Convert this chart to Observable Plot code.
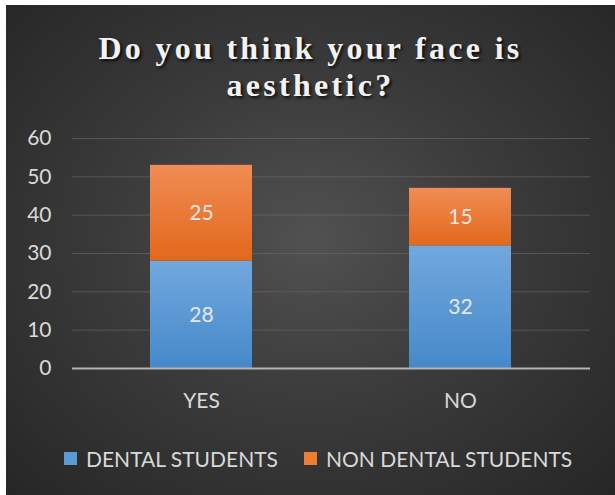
<!DOCTYPE html>
<html><head><meta charset="utf-8">
<script src="https://cdn.jsdelivr.net/npm/d3@7"></script>
<script src="https://cdn.jsdelivr.net/npm/@observablehq/plot@0.6"></script>
<style>
html,body{margin:0;padding:0;}
body{background:#fff;width:615px;height:495px;overflow:hidden;position:relative;font-family:Lato,"Noto Sans",sans-serif;}
#bg{position:absolute;left:6px;top:5px;right:0;bottom:0;background:radial-gradient(ellipse farthest-corner at 50% 48%,#515151 0%,#3b3b3b 45%,#262626 100%);}
#title{position:absolute;left:6px;right:0;top:30px;text-align:center;font-family:"Liberation Serif","DejaVu Serif",serif;font-weight:bold;font-size:32px;line-height:37px;letter-spacing:3.3px;color:#f2f2f2;text-shadow:2px 2px 3px rgba(0,0,0,0.8);}
#chart{position:absolute;left:0;top:120px;}
.leg{position:absolute;top:446px;height:24px;display:flex;align-items:center;font-size:21px;color:#d9d9d9;white-space:nowrap;}
.leg span.sw{display:inline-block;width:13px;height:13px;margin-right:9px;}
</style></head><body>
<div id="bg"></div>
<div id="title">Do you think your face is<br>aesthetic?</div>
<div id="chart"></div>
<div id="legend"></div>
<script>
const categories = ["YES", "NO"];
const seriesNames = ["DENTAL STUDENTS", "NON DENTAL STUDENTS"];
const dentalValues = [28, 32];
const nonDentalValues = [25, 15];
const yTicks = [0, 10, 20, 30, 40, 50, 60];
const seriesColors = ["#5b9bd5", "#ed7d31"];

const data = [];
categories.forEach((c, i) => {
  data.push({category: c, series: seriesNames[0], value: dentalValues[i]});
  data.push({category: c, series: seriesNames[1], value: nonDentalValues[i]});
});

const gradDefs = () => {
  const svgNS = "http://www.w3.org/2000/svg";
  const defs = document.createElementNS(svgNS, "defs");
  defs.innerHTML = `
    <linearGradient id="gBlue" x1="0" y1="0" x2="0" y2="1">
      <stop offset="0" stop-color="#72a8dd"/><stop offset="1" stop-color="#4589cb"/>
    </linearGradient>
    <linearGradient id="gOrange" x1="0" y1="0" x2="0" y2="1">
      <stop offset="0" stop-color="#f08c55"/><stop offset="1" stop-color="#e3681b"/>
    </linearGradient>`;
  return defs;
};

const chart = Plot.plot({
  width: 615,
  height: 300,
  marginLeft: 72,
  marginRight: 25,
  marginTop: 18,
  marginBottom: 52,
  style: {background: "transparent", color: "#d9d9d9", fontFamily: "Lato, 'Noto Sans', sans-serif", fontSize: "21px"},
  x: {domain: categories, paddingInner: 0.606, paddingOuter: 0.303, label: null},
  y: {domain: [0, 60], ticks: yTicks, label: null},
  color: {domain: seriesNames, range: ["url(#gBlue)", "url(#gOrange)"]},
  marks: [
    gradDefs,
    Plot.gridY(yTicks.filter(d => d > 0), {stroke: "#6a6a6a", strokeOpacity: 0.6, strokeWidth: 1}),
    Plot.barY(data, Plot.stackY({x: "category", y: "value", fill: "series", order: seriesNames})),
    Plot.ruleY([0], {stroke: "#b4b4b4", strokeWidth: 2}),
    Plot.text(data, Plot.stackY({x: "category", y: "value", z: "series", order: seriesNames, text: d => String(d.value), fill: "#e6e6e6", fontSize: 21})),
    Plot.axisY({ticks: yTicks, tickSize: 0, tickPadding: 21, fontSize: 21, fill: "#d9d9d9"}),
    Plot.axisX({tickSize: 0, tickPadding: 25, fontSize: 21, fill: "#d9d9d9"})
  ]
});
document.getElementById("chart").appendChild(chart);

const legend = document.getElementById("legend");
const legLefts = [64, 304];
seriesNames.forEach((s, i) => {
  const item = document.createElement("div");
  item.className = "leg";
  item.style.left = legLefts[i] + "px";
  const sw = document.createElement("span");
  sw.className = "sw";
  sw.style.background = seriesColors[i];
  item.appendChild(sw);
  item.appendChild(document.createTextNode(s));
  legend.appendChild(item);
});
</script>
</body></html>
